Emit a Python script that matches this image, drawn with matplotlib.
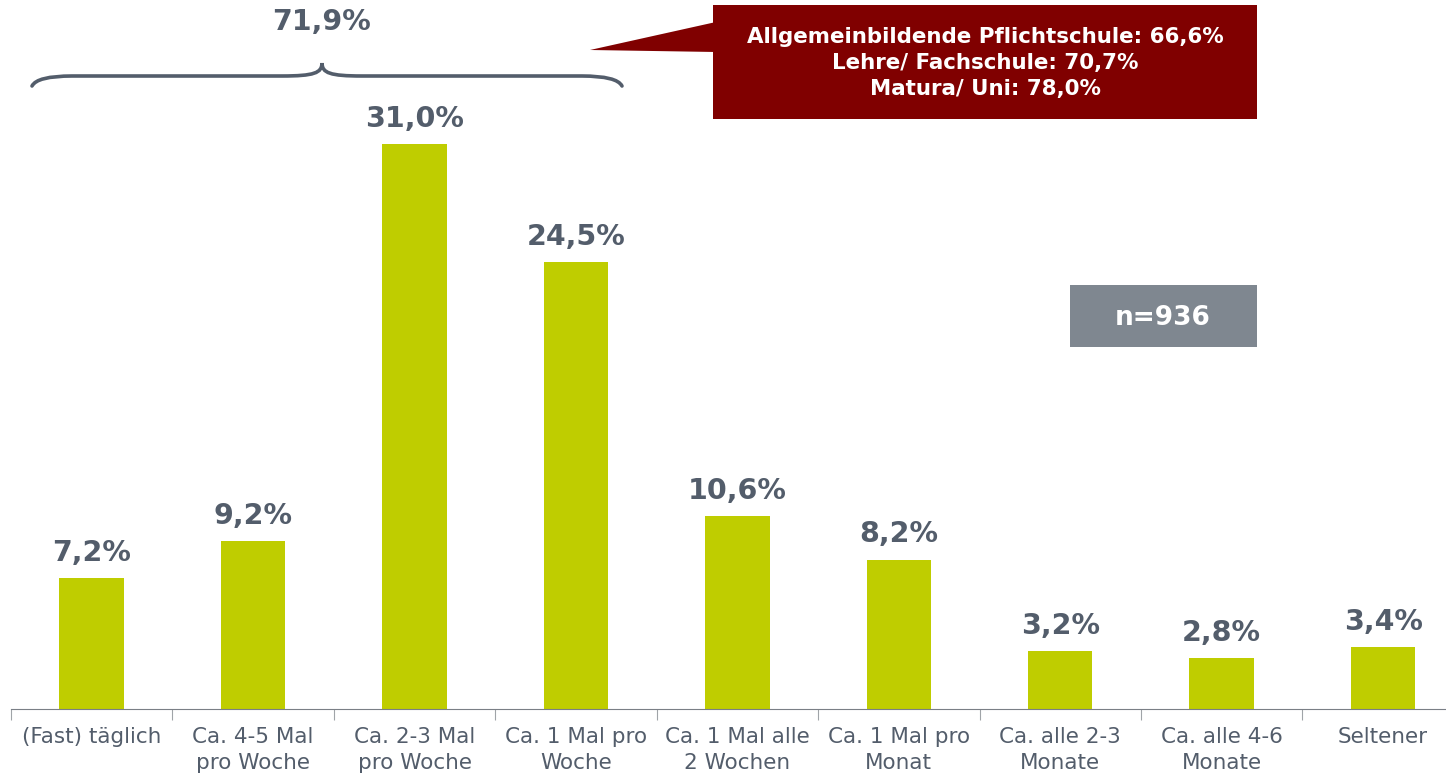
import matplotlib
matplotlib.use("Agg")
import matplotlib.pyplot as plt
from matplotlib.path import Path
from matplotlib.patches import PathPatch, Polygon, Rectangle

# data
categories = ["(Fast) täglich", "Ca. 4-5 Mal\npro Woche", "Ca. 2-3 Mal\npro Woche",
              "Ca. 1 Mal pro\nWoche", "Ca. 1 Mal alle\n2 Wochen", "Ca. 1 Mal pro\nMonat",
              "Ca. alle 2-3\nMonate", "Ca. alle 4-6\nMonate", "Seltener"]
values = [7.2, 9.2, 31.0, 24.5, 10.6, 8.2, 3.2, 2.8, 3.4]
edu_groups = ["Allgemeinbildende Pflichtschule", "Lehre/ Fachschule", "Matura/ Uni"]
edu_shares = [66.6, 70.7, 78.0]
sample_size = 936

W, H = 1446, 776
bar_color = "#BFCD00"
text_color = "#535D6B"
red = "#800000"
grey_box = "#7F8790"


def fmt(v):
    return f"{v:.1f}".replace(".", ",") + "%"


def px(x, y):
    # pixel position (from top-left) -> figure fraction
    return x / W, 1 - y / H


fig = plt.figure(figsize=(W / 100, H / 100), dpi=100)
ax = fig.add_axes([11 / W, 67 / H, 1 - 11 / W, 1 - 67 / H])

xs = range(len(values))
ax.bar(xs, values, width=0.4, color=bar_color)
for x, v in zip(xs, values):
    ax.annotate(fmt(v), (x, v), xytext=(0, 8), textcoords="offset points",
                ha="center", va="bottom", fontsize=20.5, fontweight="bold",
                color=text_color)

ax.set_yticks([])
for s in ["top", "right", "left"]:
    ax.spines[s].set_visible(False)
ax.spines["bottom"].set_color("#7A7F86")
ax.set_xticks([i - 0.5 for i in range(len(values) + 1)])
ax.set_xticks(list(xs), minor=True)
ax.set_xticklabels([])
ax.set_xticklabels(categories, minor=True, fontsize=15.5, color=text_color,
                   linespacing=1.4)
ax.tick_params(axis="x", which="major", length=8, color="#A0A4A8")
ax.tick_params(axis="x", which="minor", length=0, pad=13)
ax.set_xlim(-0.5, 8.39)
ax.set_ylim(0, 38.9)

# brace over the first four bars
bx0, bx1, bmid, by, tip = 32, 622, 322, 76, 63
verts = [px(bx0, 86), px(bx0 + 5, by), px(bx0 + 40, by), px(bmid - 40, by),
         px(bmid - 8, by), px(bmid, by - 3), px(bmid, tip),
         px(bmid, by - 3), px(bmid + 8, by), px(bmid + 40, by),
         px(bx1 - 40, by), px(bx1 - 5, by), px(bx1, 86)]
codes = [Path.MOVETO, Path.CURVE3, Path.CURVE3, Path.LINETO,
         Path.CURVE4, Path.CURVE4, Path.CURVE4,
         Path.CURVE4, Path.CURVE4, Path.CURVE4,
         Path.LINETO, Path.CURVE3, Path.CURVE3]
fig.patches.append(PathPatch(Path(verts, codes), transform=fig.transFigure,
                             fill=False, edgecolor=text_color, lw=2.6,
                             capstyle="round"))
fig.text(*px(322, 22), fmt(sum(values[:4])), ha="center", va="center",
         fontsize=20.5, fontweight="bold", color=text_color)

# callout with education breakdown
fig.patches.append(Polygon([px(590, 50), px(716, 22), px(716, 52)], closed=True,
                           transform=fig.transFigure, facecolor=red, edgecolor="none"))
x0, y0 = px(713, 119)
x1, y1 = px(1257, 5)
fig.patches.append(Rectangle((x0, y0), x1 - x0, y1 - y0, transform=fig.transFigure,
                             facecolor=red, edgecolor="none"))
callout = "\n".join(f"{g}: {fmt(s)}" for g, s in zip(edu_groups, edu_shares))
fig.text(*px(985, 63), callout, ha="center", va="center", fontsize=15.4,
         fontweight="bold", color="white", linespacing=1.4)

# sample size box
x0, y0 = px(1070, 347)
x1, y1 = px(1257, 285)
fig.patches.append(Rectangle((x0, y0), x1 - x0, y1 - y0, transform=fig.transFigure,
                             facecolor=grey_box, edgecolor="none"))
fig.text(*px(1163, 318), f"n={sample_size}", ha="center", va="center",
         fontsize=19, fontweight="bold", color="white")

fig.savefig("out.png", dpi=100)
